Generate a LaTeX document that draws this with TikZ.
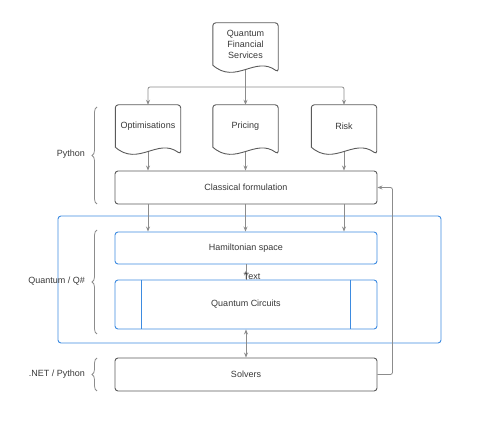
\documentclass[tikz,border=0pt]{standalone}
\usepackage{fontspec}
\setmainfont{Liberation Sans}
\usetikzlibrary{arrows.meta,calc,decorations.pathreplacing,decorations.markings}
\definecolor{lineGray}{HTML}{8C8C8C}
\definecolor{boxGray}{HTML}{5A5A5A}
\definecolor{textGray}{HTML}{383838}
\definecolor{qBlue}{HTML}{3D8BE0}
\newcommand{\pDocShape}[1]{\draw[docline] (#1.south west) [rounded corners=3pt] -- (#1.north west) -- (#1.north east) -- ($(#1.south east)+(0,7)$) [sharp corners] .. controls ($(#1.south west)!0.65!(#1.south east)+(0,-10)$) and ($(#1.south west)!0.35!(#1.south east)+(0,20)$) .. (#1.south west) -- cycle;}

\begin{document}
\begin{tikzpicture}[x=1pt,y=-1pt,
  every node/.style={font={\fontsize{9}{11}\selectfont}, text=textGray},
  docnode/.style={minimum width=65pt, minimum height=42pt, inner sep=0pt, align=center},
  docline/.style={draw=boxGray, line width=0.9pt},
  wide/.style={draw=boxGray, line width=0.9pt, rounded corners=3pt, minimum width=262pt, inner sep=0pt},
  qbox/.style={wide, draw=qBlue},
  conn/.style={draw=lineGray, line width=0.8pt, rounded corners=2pt},
  arr/.style={conn, -{Stealth[length=5pt,width=4pt,fill=boxGray]}},
  brc/.style={draw=lineGray, line width=0.8pt, decorate, decoration={brace, amplitude=5pt}},
  lbl/.style={anchor=east, inner sep=0pt}]
\useasboundingbox (0,0) rectangle (493,427);
\node[draw=qBlue, line width=0.9pt, rounded corners=3pt, minimum width=383pt, minimum height=127pt, inner sep=0pt] (qzone) at (249.5,279.5) {};
\node[docnode] (qfs) at (245.5,44) {Quantum\\Financial\\Services};
\node[docnode] (opt) at (148,126) {Optimisations};
\node[docnode] (pri) at (245.5,126) {Pricing};
\node[docnode] (risk) at (344,126) {Risk};
\pDocShape{qfs}
\pDocShape{opt}
\pDocShape{pri}
\pDocShape{risk}
\node[wide, minimum height=33pt] (cf) at (246,187.5) {Classical formulation};
\node[qbox, minimum height=32pt] (ham) at (246,248) {Hamiltonian space};
\node[qbox, minimum height=49pt] (qc) at (246,304.5) {Quantum Circuits};
\draw[draw=qBlue, line width=0.9pt] (141,280) -- (141,329);
\draw[draw=qBlue, line width=0.9pt] (350,280) -- (350,329);
\node[wide, minimum height=33pt] (sol) at (246,374.5) {Solvers};
\coordinate (qfs-b) at ($(qfs.south)+(0,5)$);
\coordinate (opt-b) at ($(opt.south)+(0,5)$);
\coordinate (pri-b) at ($(pri.south)+(0,5)$);
\coordinate (risk-b) at ($(risk.south)+(0,5)$);
\coordinate (split) at (245.5,87);
\draw[conn] (qfs-b) -- (split);
\draw[arr] (split) -| (opt.north);
\draw[arr] (split) -- (pri.north);
\draw[arr] (split) -| (risk.north);
\draw[arr] (opt-b) -- (opt.south |- cf.north);
\draw[arr] (pri-b) -- (pri.south |- cf.north);
\draw[arr] (risk-b) -- (risk.south |- cf.north);
\draw[arr] (opt.south |- cf.south) -- (opt.south |- ham.north);
\draw[arr] (pri.south |- cf.south) -- (pri.south |- ham.north);
\draw[arr] (risk.south |- cf.south) -- (risk.south |- ham.north);
\draw[conn, postaction={decorate}, decoration={markings, mark=at position 0.6 with {\arrow{Stealth[length=5pt,width=4pt,fill=boxGray]}}}] (qc.north) -- (ham.south) node[pos=0.2, xshift=6pt] (txt) {Text};
\draw[conn, {Stealth[length=5pt,width=4pt,fill=boxGray]}-{Stealth[length=5pt,width=4pt,fill=boxGray]}] (qc.south) -- (sol.north);
\draw[arr] (sol.east) -- ++(15,0) |- (cf.east);
\draw[brc] (97,204) -- (97,107);
\draw[brc] (97,334) -- (97,230);
\draw[brc] (97,391) -- (97,358);
\node[lbl] (pyLbl) at (85,154) {Python};
\node[lbl] (qsLbl) at (85,281) {Quantum / Q\#};
\node[lbl] (netLbl) at (85,374.5) {.NET / Python};
\end{tikzpicture}
\end{document}
